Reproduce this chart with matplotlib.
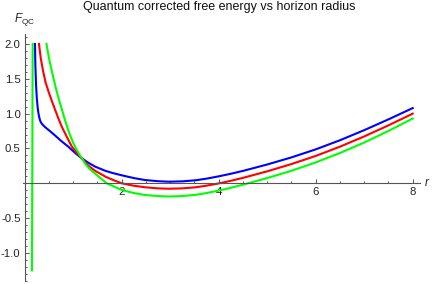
import numpy as np
import matplotlib
matplotlib.use("Agg")
import matplotlib.pyplot as plt
from matplotlib.ticker import FixedLocator

plt.rcParams['font.family'] = ['Liberation Sans', 'DejaVu Sans']
plt.rcParams['mathtext.fontset'] = 'custom'
plt.rcParams['mathtext.rm'] = 'Liberation Sans'
plt.rcParams['mathtext.it'] = 'Liberation Sans:italic'

# values
r_blue = [0.212, 0.22, 0.235, 0.25, 0.27, 0.29, 0.31, 0.33, 0.36, 0.40, 0.45, 0.52, 0.62,
          0.75, 0.9, 1.05, 1.175, 1.3, 1.45, 1.66, 1.8, 2.0, 2.25, 2.48, 2.75, 2.97,
          3.25, 3.52, 3.75, 4.0, 4.25, 4.5, 5.0, 5.5, 6.0, 6.5, 7.0, 7.5, 8.0]
F_blue = [2.0, 1.7, 1.40, 1.22, 1.07, 0.98, 0.92, 0.88, 0.85, 0.82, 0.79, 0.75, 0.69,
          0.61, 0.525, 0.43, 0.36, 0.30, 0.24, 0.18, 0.15, 0.115, 0.075, 0.047, 0.03, 0.023,
          0.028, 0.043, 0.067, 0.10, 0.137, 0.178, 0.27, 0.372, 0.487, 0.618, 0.763, 0.918, 1.08]

r_red = [0.295, 0.33, 0.38, 0.43, 0.49, 0.56, 0.62, 0.69, 0.76, 0.87, 0.97, 1.06, 1.175,
         1.3, 1.45, 1.68, 1.85, 2.0, 2.25, 2.48, 2.75, 2.97, 3.25, 3.52, 3.75, 4.0,
         4.25, 4.5, 5.0, 5.5, 6.0, 6.5, 7.0, 7.5, 8.0]
F_red = [2.0, 1.8, 1.61, 1.45, 1.32, 1.18, 1.07, 0.94, 0.82, 0.665, 0.53, 0.45, 0.36,
         0.26, 0.18, 0.09, 0.04, 0.0, -0.035, -0.057, -0.073, -0.078, -0.073, -0.058, -0.034, -0.002,
         0.036, 0.078, 0.172, 0.276, 0.393, 0.526, 0.673, 0.832, 1.0]

# green curve leaves the plot range above F=2 between the two branches
r_green = [0.150, 0.165, np.nan, 0.45, 0.5, 0.56, 0.61, 0.66, 0.72, 0.78, 0.83, 0.88, 0.93,
           1.0, 1.08, 1.175, 1.26, 1.35, 1.45, 1.69, 2.0, 2.25, 2.48, 2.75, 2.97, 3.25,
           3.52, 3.75, 4.0, 4.25, 4.5, 5.0, 5.5, 6.0, 6.5, 7.0, 7.5, 8.0]
F_green = [-1.25, 2.0, np.nan, 2.0, 1.8, 1.61, 1.46, 1.32, 1.17, 1.03, 0.91, 0.80, 0.70,
           0.58, 0.47, 0.36, 0.27, 0.20, 0.14, 0.0, -0.095, -0.14, -0.168, -0.183, -0.19, -0.183,
           -0.166, -0.14, -0.105, -0.065, -0.02, 0.075, 0.18, 0.30, 0.435, 0.585, 0.752, 0.93]

x_major = [2, 4, 6, 8]
x_minor = [0.5, 1, 1.5, 2.5, 3, 3.5, 4.5, 5, 5.5, 6.5, 7, 7.5]
y_major = [-1.0, -0.5, 0.5, 1.0, 1.5, 2.0]

fig = plt.figure(figsize=(4.36, 2.84), dpi=100)
ax = fig.add_axes([0, 0, 1, 1])
ax.set_xlim(-0.509, 8.480)
ax.set_ylim(-1.446, 2.632)
ax.patch.set_visible(False)

ax.plot(r_blue, F_blue, color='#0000ff', lw=1.5)
ax.plot(r_red, F_red, color='#ff0000', lw=1.5)
ax.plot(r_green, F_green, color='#00ff00', lw=1.5)

axis_col = '#555555'
for side in ['top', 'right']:
    ax.spines[side].set_visible(False)
ax.spines['left'].set_position(('data', 0))
ax.spines['bottom'].set_position(('data', 0))
ax.spines['left'].set_bounds(-1.41, 2.15)
ax.spines['bottom'].set_bounds(-0.03, 8.15)
for side in ['left', 'bottom']:
    ax.spines[side].set_color(axis_col)
    ax.spines[side].set_linewidth(0.8)

y_minor = [round(v, 1) for v in np.arange(-1.4, 2.15, 0.1)
           if abs(round(v, 1)) > 1e-9 and round(v, 1) not in y_major]

ax.xaxis.set_major_locator(FixedLocator(x_major))
ax.xaxis.set_minor_locator(FixedLocator(x_minor))
ax.yaxis.set_major_locator(FixedLocator(y_major))
ax.yaxis.set_minor_locator(FixedLocator(y_minor))
ax.set_xticklabels([str(v) for v in x_major])
ax.set_yticklabels([f"{v:.1f}" for v in y_major])

ax.tick_params(which='both', direction='in', color=axis_col, width=0.7,
               labelsize=8.2, labelcolor='#222222')
ax.tick_params(which='major', length=3)
ax.tick_params(which='minor', length=1.7)
ax.tick_params(axis='x', pad=2.5)
ax.tick_params(axis='y', pad=3)

ax.text(8.24, 0, 'r', style='italic', fontsize=8.5, color='#222222',
        ha='left', va='center')
fig.text(25 / 436, 1 - 20 / 284, r'$F_{\mathrm{QC}}$', fontsize=8.5,
         color='#222222', ha='center', va='center')
fig.text(219 / 436, 1 - 10 / 284, 'Quantum corrected free energy vs horizon radius',
         fontsize=9, color='#111111', ha='center', va='baseline')

fig.savefig('out.png', dpi=100)
